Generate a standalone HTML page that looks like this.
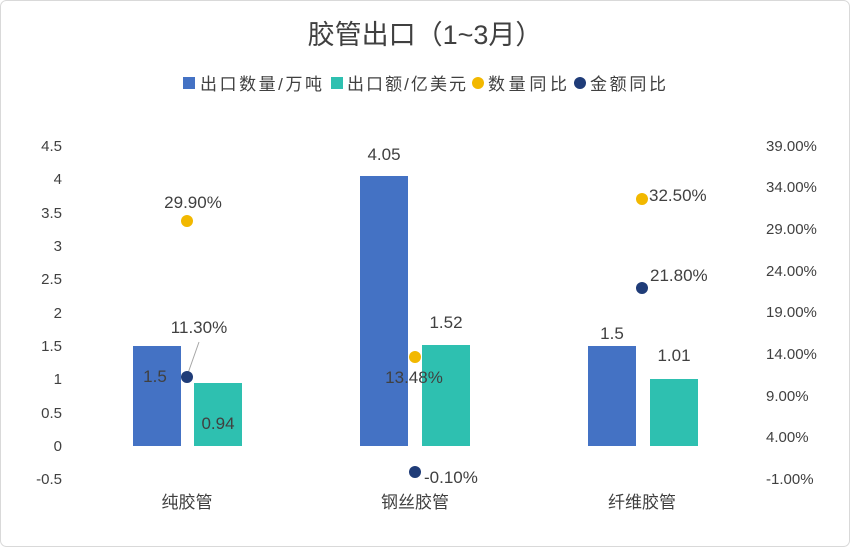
<!DOCTYPE html>
<html><head><meta charset="utf-8"><style>
body{margin:0;background:#fff}
svg text{font-family:"Liberation Sans","Noto Sans CJK SC",sans-serif;fill:#404040}
</style></head><body>
<svg width="850" height="547" viewBox="0 0 850 547" xmlns="http://www.w3.org/2000/svg">
<rect x="0.5" y="0.5" width="849" height="546" rx="6" fill="#fff" stroke="#d9d9d9"/>
<text x="425" y="44" font-size="27" text-anchor="middle" fill="#404040">胶管出口（1~3月）</text>
<g font-size="17">
<rect x="183" y="77" width="12" height="12" fill="#4472c4"/><text x="200" y="90" textLength="122">出口数量/万吨</text>
<rect x="331" y="77" width="12" height="12" fill="#2ec0b0"/><text x="347" y="90" textLength="119">出口额/亿美元</text>
<circle cx="478" cy="83" r="6" fill="#f2b800"/><text x="488" y="90" textLength="79">数量同比</text>
<circle cx="580" cy="83" r="6" fill="#1f3c78"/><text x="590" y="90" textLength="76">金额同比</text>
</g>
<g font-size="15" text-anchor="end">
<text x="62" y="151">4.5</text><text x="62" y="184">4</text><text x="62" y="218">3.5</text><text x="62" y="251">3</text><text x="62" y="284">2.5</text><text x="62" y="318">2</text><text x="62" y="351">1.5</text><text x="62" y="384">1</text><text x="62" y="418">0.5</text><text x="62" y="451">0</text><text x="62" y="484">-0.5</text>
</g>
<g font-size="15">
<text x="766" y="151">39.00%</text><text x="766" y="192">34.00%</text><text x="766" y="234">29.00%</text><text x="766" y="276">24.00%</text><text x="766" y="317">19.00%</text><text x="766" y="359">14.00%</text><text x="766" y="401">9.00%</text><text x="766" y="442">4.00%</text><text x="766" y="484">-1.00%</text>
</g>
<rect x="133" y="346" width="48" height="100" fill="#4472c4"/>
<rect x="194" y="383" width="48" height="63" fill="#2ec0b0"/>
<rect x="360" y="176" width="48" height="270" fill="#4472c4"/>
<rect x="422" y="345" width="48" height="101" fill="#2ec0b0"/>
<rect x="588" y="346" width="48" height="100" fill="#4472c4"/>
<rect x="650" y="379" width="48" height="67" fill="#2ec0b0"/>
<line x1="187" y1="376" x2="199" y2="342" stroke="#a6a6a6"/>
<circle cx="187" cy="221" r="6" fill="#f2b800"/>
<circle cx="187" cy="377" r="6" fill="#1f3c78"/>
<circle cx="415" cy="357" r="6" fill="#f2b800"/>
<circle cx="415" cy="472" r="6" fill="#1f3c78"/>
<circle cx="642" cy="199" r="6" fill="#f2b800"/>
<circle cx="642" cy="288" r="6" fill="#1f3c78"/>
<g font-size="17">
<text x="155" y="382" text-anchor="middle">1.5</text>
<text x="218" y="429" text-anchor="middle">0.94</text>
<text x="384" y="160" text-anchor="middle">4.05</text>
<text x="446" y="328" text-anchor="middle">1.52</text>
<text x="612" y="339" text-anchor="middle">1.5</text>
<text x="674" y="361" text-anchor="middle">1.01</text>
<text x="193" y="208" text-anchor="middle">29.90%</text>
<text x="199" y="333" text-anchor="middle">11.30%</text>
<text x="414" y="383" text-anchor="middle">13.48%</text>
<text x="424" y="483">-0.10%</text>
<text x="649" y="201">32.50%</text>
<text x="650" y="281">21.80%</text>
</g>
<g font-size="17" text-anchor="middle">
<text x="187" y="508">纯胶管</text><text x="415" y="508">钢丝胶管</text><text x="642" y="508">纤维胶管</text>
</g>
</svg>
</body></html>
